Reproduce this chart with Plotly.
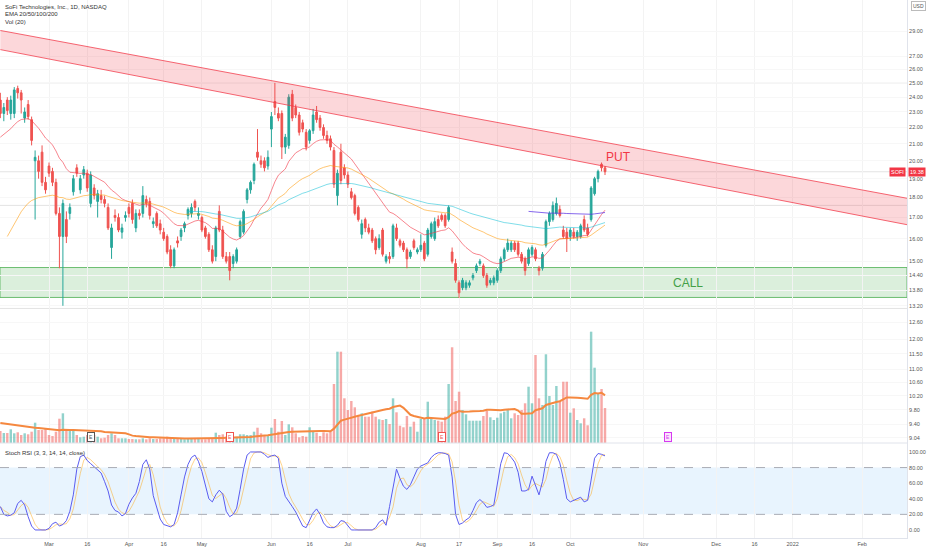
import math

import pandas as pd
import plotly.graph_objects as go

# SOFI daily bars, 8 Feb 2021 .. 15 Oct 2021 (10 bars per row)
opens = [
    23.8, 22.9, 23.8, 22.9, 22.9, 24.6, 24.3, 22.6, 23.5, 22.5,
    20.0, 20.0, 20.5, 18.8, 19.7, 19.4, 18.8, 17.2, 16.1, 16.9,
    17.2, 18.3, 19.6, 18.4, 19.2, 19.3, 17.7, 18.5, 17.8, 18.1,
    17.9, 17.5, 15.6, 17.1, 17.0, 16.3, 17.0, 17.5, 17.7, 16.5,
    17.2, 17.2, 17.9, 17.8, 16.7, 17.2, 16.7, 16.3, 16.1, 15.5,
    14.8, 15.9, 16.1, 16.5, 17.1, 17.2, 17.8, 17.1, 17.0, 16.5,
    16.2, 15.5, 15.2, 17.3, 16.4, 15.2, 15.2, 14.9, 15.0, 16.1,
    16.3, 17.9, 18.4, 18.9, 20.5, 20.0, 20.0, 19.7, 21.9, 23.7,
    22.9, 22.9, 20.8, 20.9, 24.2, 23.3, 22.8, 22.3, 21.7, 21.2,
    21.8, 23.0, 22.6, 22.0, 21.5, 21.3, 20.6, 18.1, 20.5, 19.6,
    19.2, 18.3, 18.1, 17.5, 16.2, 16.9, 16.5, 16.4, 16.0, 15.6,
    16.4, 15.0, 15.2, 15.2, 16.5, 15.9, 15.8, 15.5, 15.2, 15.9,
    15.4, 15.5, 15.8, 15.3, 16.1, 16.0, 16.9, 17.1, 17.1, 16.9,
    15.4, 14.9, 14.1, 13.9, 13.9, 14.0, 14.3, 14.6, 14.9, 14.8,
    14.4, 14.1, 14.1, 14.2, 14.6, 15.1, 15.5, 15.5, 15.8, 15.8,
    15.3, 15.1, 14.9, 15.3, 15.5, 14.7, 14.7, 15.7, 16.8, 16.9,
    17.2, 17.4, 16.4, 16.3, 16.1, 16.3, 16.1, 16.1, 16.9, 16.5,
    16.9, 18.2, 19.0, 19.8, 19.6,
]
highs = [
    24.3, 23.6, 24.0, 24.1, 24.7, 24.8, 24.5, 23.3, 23.8, 22.7,
    20.6, 20.3, 20.9, 19.1, 19.9, 19.6, 19.0, 17.5, 17.9, 17.3,
    17.7, 19.2, 19.8, 19.2, 19.7, 19.5, 19.4, 18.7, 18.4, 18.4,
    18.1, 17.7, 16.7, 17.4, 17.2, 16.7, 17.3, 17.7, 17.9, 17.4,
    17.4, 18.6, 18.1, 18.0, 17.0, 17.3, 16.9, 16.5, 16.2, 15.7,
    15.6, 16.1, 16.5, 16.8, 17.5, 17.7, 17.9, 17.5, 17.1, 16.6,
    16.3, 15.7, 16.6, 17.6, 16.6, 15.4, 15.4, 15.3, 15.6, 16.9,
    17.4, 18.5, 18.9, 19.9, 21.9, 20.3, 20.2, 20.6, 23.0, 25.0,
    23.3, 23.1, 21.6, 24.2, 24.5, 23.5, 23.0, 22.5, 21.9, 21.9,
    23.2, 23.4, 22.8, 22.2, 21.8, 21.5, 20.8, 19.5, 21.0, 19.8,
    19.4, 18.5, 18.2, 17.6, 16.9, 17.0, 16.7, 16.5, 16.1, 16.2,
    16.5, 15.3, 15.4, 16.7, 16.7, 16.0, 15.9, 15.6, 15.5, 16.0,
    15.6, 16.2, 15.9, 16.5, 16.8, 17.0, 17.1, 17.2, 17.2, 17.6,
    15.6, 15.1, 14.2, 14.3, 14.2, 14.2, 14.5, 14.9, 15.1, 14.9,
    14.5, 14.3, 14.4, 14.7, 15.2, 15.6, 16.0, 15.9, 15.9, 15.9,
    15.4, 15.2, 15.6, 15.7, 15.6, 14.8, 15.4, 16.9, 17.3, 17.8,
    18.0, 17.6, 16.6, 16.5, 16.5, 16.5, 16.4, 16.7, 17.1, 16.7,
    18.6, 19.1, 19.5, 19.9, 19.7,
]
lows = [
    22.6, 22.4, 22.8, 22.5, 22.6, 23.9, 22.9, 22.3, 22.5, 20.9,
    16.9, 19.0, 18.6, 18.2, 19.1, 18.6, 17.1, 14.7, 13.2, 15.8,
    16.9, 18.1, 19.1, 18.2, 19.0, 18.3, 17.5, 17.9, 17.0, 17.7,
    17.5, 16.4, 15.1, 16.8, 16.3, 16.0, 16.8, 17.0, 16.7, 16.3,
    16.9, 17.0, 17.5, 16.9, 16.5, 16.5, 16.2, 15.9, 15.3, 14.7,
    14.7, 15.6, 15.9, 16.3, 16.9, 17.0, 17.3, 16.9, 16.3, 16.0,
    15.4, 14.9, 15.0, 16.3, 15.1, 14.9, 14.2, 14.7, 14.9, 16.0,
    16.2, 17.7, 18.2, 18.7, 20.0, 19.6, 19.4, 19.5, 20.8, 22.8,
    22.4, 20.1, 20.4, 20.7, 22.4, 22.6, 21.5, 21.7, 20.6, 21.0,
    21.6, 22.3, 21.8, 21.3, 21.0, 20.6, 18.5, 17.6, 18.7, 19.0,
    18.5, 17.9, 17.1, 16.8, 16.0, 16.3, 16.2, 15.8, 15.3, 15.5,
    15.2, 14.9, 14.9, 15.1, 15.9, 15.6, 15.4, 14.7, 15.1, 15.5,
    15.3, 15.4, 15.0, 15.2, 16.0, 15.9, 16.5, 16.8, 16.5, 16.8,
    14.9, 14.1, 13.5, 13.8, 13.8, 13.9, 14.2, 14.5, 14.8, 14.3,
    13.9, 14.0, 14.0, 14.1, 14.5, 15.0, 15.4, 15.4, 15.4, 15.2,
    14.9, 14.4, 14.8, 15.2, 15.0, 14.4, 14.6, 15.6, 16.6, 16.8,
    17.1, 17.0, 16.0, 15.4, 15.9, 16.0, 15.9, 16.0, 16.3, 16.1,
    16.8, 18.1, 18.8, 19.4, 19.2,
]
closes = [
    22.9, 23.3, 23.1, 23.8, 24.5, 24.3, 23.8, 23.0, 22.7, 21.2,
    20.2, 19.4, 18.8, 18.4, 19.3, 18.8, 17.2, 16.1, 17.7, 16.1,
    17.5, 19.0, 19.3, 19.0, 19.5, 18.5, 19.2, 18.1, 18.2, 17.9,
    17.7, 16.5, 16.5, 17.0, 16.4, 16.5, 17.1, 17.2, 16.9, 17.2,
    17.1, 18.1, 17.7, 17.1, 16.8, 16.6, 16.4, 16.0, 15.4, 14.8,
    15.5, 15.8, 16.4, 16.7, 17.4, 17.5, 17.5, 17.2, 16.4, 16.1,
    15.5, 15.0, 16.5, 16.4, 15.2, 15.0, 14.6, 15.2, 15.5, 16.8,
    17.3, 18.4, 18.8, 19.8, 20.2, 19.8, 19.6, 20.2, 22.7, 23.3,
    22.6, 20.8, 21.4, 24.0, 22.6, 22.8, 21.7, 21.9, 20.8, 21.8,
    22.8, 22.5, 22.0, 21.5, 21.2, 20.8, 18.7, 19.3, 18.9, 19.2,
    18.7, 18.0, 17.2, 16.9, 16.7, 16.5, 16.3, 15.9, 15.5, 16.0,
    15.3, 15.2, 15.1, 16.6, 16.0, 15.7, 15.5, 15.1, 15.4, 15.6,
    15.5, 15.7, 15.1, 16.4, 16.7, 16.8, 16.6, 16.9, 16.6, 17.5,
    15.0, 14.2, 13.7, 14.2, 14.1, 14.1, 14.4, 14.8, 15.0, 14.4,
    14.0, 14.2, 14.3, 14.6, 15.1, 15.5, 15.8, 15.8, 15.5, 15.3,
    15.0, 14.6, 15.5, 15.6, 15.1, 14.6, 15.3, 16.8, 17.2, 17.6,
    17.7, 17.1, 16.1, 16.0, 16.4, 16.1, 16.3, 16.6, 16.4, 16.2,
    18.5, 19.0, 19.4, 19.6, 19.38,
]
volumes = [  # millions of shares
    12.0, 10.0, 10.0, 13.7, 9.7, 10.7, 8.0, 9.7, 8.7, 11.3,
    20.3, 13.0, 13.0, 14.7, 8.0, 7.0, 11.3, 24.3, 29.7, 13.0,
    13.0, 13.0, 8.0, 5.7, 6.3, 8.0, 8.0, 8.0, 6.3, 4.7,
    5.3, 8.0, 9.7, 8.0, 4.7, 4.7, 4.7, 4.0, 4.0, 3.7,
    3.7, 4.7, 3.7, 4.7, 4.0, 4.0, 4.7, 4.7, 6.3, 5.7,
    4.7, 4.7, 4.0, 3.7, 4.0, 4.7, 4.0, 4.0, 3.7, 3.7,
    4.0, 4.7, 10.3, 8.0, 8.7, 6.3, 5.7, 5.7, 6.3, 8.7,
    8.7, 8.0, 8.0, 11.3, 15.3, 9.7, 8.0, 8.0, 15.3, 24.0,
    11.3, 22.0, 8.0, 18.7, 15.7, 9.7, 5.7, 7.0, 6.3, 15.7,
    11.3, 10.3, 7.0, 10.7, 9.7, 11.3, 59.0, 91.3, 91.3, 44.7,
    33.0, 42.0, 35.7, 28.0, 29.7, 26.3, 26.3, 31.3, 26.3, 23.7,
    23.0, 24.0, 19.0, 44.7, 30.7, 17.3, 15.7, 27.0, 16.3, 21.3,
    11.3, 24.0, 24.0, 41.3, 24.0, 23.0, 22.3, 21.3, 26.3, 59.0,
    95.7, 42.0, 51.3, 33.0, 28.7, 22.3, 22.3, 22.3, 22.3, 27.0,
    32.3, 25.7, 23.0, 25.3, 29.7, 31.3, 33.0, 24.7, 29.7, 28.0,
    33.0, 39.7, 56.3, 39.7, 88.0, 44.7, 38.0, 88.7, 47.0, 38.0,
    57.0, 41.3, 61.3, 61.3, 30.3, 34.7, 23.0, 19.7, 24.7, 17.7,
    111.3, 75.3, 50.0, 54.0, 35.0,
]
vol_ma_seed = 20.3  # 20-day average volume just before the first bar shown

stoch_k = [
    30, 20, 18, 19, 22, 34, 38, 32, 17, 5,
    0, 0, 0, 0, 2, 8, 10, 5, 7, 12,
    24, 45, 78, 94, 96, 89, 85, 81, 78, 73,
    62, 50, 32, 25, 23, 18, 21, 33, 41, 47,
    62, 84, 90, 78, 44, 30, 14, 7, 5, 4,
    7, 22, 45, 68, 84, 93, 96, 88, 75, 57,
    40, 36, 45, 51, 46, 24, 17, 20, 28, 52,
    78, 96, 100, 100, 100, 100, 97, 93, 95, 96,
    92, 60, 43, 37, 30, 23, 13, 5, 3, 12,
    22, 27, 20, 9, 4, 3, 3, 6, 12, 11,
    5, 0, 0, 0, 0, 0, 0, 0, 3, 10,
    13, 6, 30, 52, 78, 66, 56, 52, 58, 68,
    78, 82, 84, 86, 93, 97, 99, 99, 98, 96,
    68, 20, 7, 9, 13, 16, 25, 35, 39, 35,
    29, 30, 32, 58, 85, 99, 98, 93, 87, 74,
    50, 50, 52, 69, 58, 45, 62, 88, 99, 99,
    97, 86, 65, 40, 36, 38, 39, 42, 36, 38,
    64, 92, 98, 97, 95,
]

# EMA lines begin on the chart at these bars with these values
ema_lengths = [20, 50, 100, 200]
ema_start_dates = ["2021-02-08", "2021-02-10", "2021-04-27", "2021-09-15"]
ema_seed_values = [21.4, 16.1, 17.3, 17.3]
ema_colors = ["rgba(242,54,69,0.6)", "rgba(255,152,0,0.55)", "rgba(0,188,212,0.5)", "rgba(94,53,230,0.75)"]

# drawings
channel_dates = ["2021-02-08", "2022-02-18"]
channel_top = [29.05, 17.96]
channel_bottom = [27.5, 16.65]
call_zone = [13.52, 14.73]
level_lines = [25.0, 19.38, 17.6, 13.1]
earnings_dates = ["2021-03-17", "2021-05-13", "2021-08-10", "2021-11-10"]

tick_dates = ["2021-03-01", "2021-03-16", "2021-04-01", "2021-04-16", "2021-05-03", "2021-06-01",
              "2021-06-16", "2021-07-01", "2021-08-02", "2021-08-17", "2021-09-01", "2021-09-16",
              "2021-10-01", "2021-11-01", "2021-12-01", "2021-12-16", "2022-01-03", "2022-02-01"]
tick_names = ["Mar", "16", "Apr", "16", "May", "Jun", "16", "Jul", "Aug", "17", "Sep", "16",
              "Oct", "Nov", "Dec", "16", "2022", "Feb"]
price_ticks = [29, 27, 26, 25, 24, 23, 22, 21, 20, 19, 18, 17, 16, 15,
               14.4, 13.8, 13.2, 12.6, 12.0, 11.5, 11.0, 10.6, 10.2, 9.8, 9.4, 9.04]
stoch_ticks = [0, 20, 40, 60, 80, 100]

TEAL = "#26a69a"
RED = "#ef5350"
FONT = "Liberation Sans, Arial, sans-serif"
SPLIT = 95 / 538  # stoch pane share of the plot height

# trading calendar -> bar index (TradingView spaces bars, not days)
holidays = pd.to_datetime(["2021-02-15", "2021-04-02", "2021-05-31", "2021-07-05", "2021-09-06",
                           "2021-11-25", "2021-12-24", "2022-01-17", "2022-02-21"])
days = pd.bdate_range("2021-02-08", "2022-03-31")
days = days[~days.isin(holidays)]
bar_of = {d: k for k, d in enumerate(days)}


def bar(date):
    return bar_of[pd.Timestamp(date)]


def ema(values, start, seed, length):
    alpha = 2 / (length + 1)
    out = [None] * len(values)
    level = seed
    out[start] = level
    for k in range(start + 1, len(values)):
        level = alpha * values[k] + (1 - alpha) * level
        out[k] = level
    return out


xs = list(range(len(closes)))
vol_colors = ["rgba(38,166,154,0.5)" if c >= o else "rgba(239,83,80,0.5)" for o, c in zip(opens, closes)]
vol_ma = pd.Series([vol_ma_seed] * 19 + volumes).rolling(20).mean().iloc[19:].tolist()
stoch_d = pd.Series(stoch_k).rolling(3, min_periods=1).mean()
chan_x = [bar(d) for d in channel_dates]

fig = go.Figure()

# red descending channel
fig.add_trace(go.Scatter(x=chan_x, y=channel_bottom, mode="lines",
                         line=dict(color="rgba(242,54,69,0.75)", width=1)))
fig.add_trace(go.Scatter(x=chan_x, y=channel_top, mode="lines", fill="tonexty",
                         fillcolor="rgba(242,54,69,0.2)",
                         line=dict(color="rgba(242,54,69,0.75)", width=1)))

fig.add_trace(go.Candlestick(
    x=xs, open=opens, high=highs, low=lows, close=closes, whiskerwidth=0,
    increasing=dict(line=dict(color=TEAL, width=1), fillcolor=TEAL),
    decreasing=dict(line=dict(color=RED, width=1), fillcolor=RED),
))

for length, start, seed, color in zip(ema_lengths, ema_start_dates, ema_seed_values, ema_colors):
    fig.add_trace(go.Scatter(x=xs, y=ema(closes, bar(start), seed, length), mode="lines",
                             line=dict(color=color, width=1)))

# volume overlay with its 20-day average
fig.add_trace(go.Bar(x=xs, y=volumes, marker=dict(color=vol_colors, line=dict(width=0)),
                     width=0.7, yaxis="y3"))
fig.add_trace(go.Scatter(x=xs, y=vol_ma, mode="lines", line=dict(color="#f5883f", width=2), yaxis="y3"))

# stoch RSI pane
fig.add_trace(go.Scatter(x=xs, y=stoch_d, mode="lines", line=dict(color="rgba(255,160,0,0.45)", width=1),
                         yaxis="y2"))
fig.add_trace(go.Scatter(x=xs, y=stoch_k, mode="lines", line=dict(color="#5b5cf0", width=1), yaxis="y2"))

shapes = [
    dict(type="rect", xref="paper", x0=0, x1=1, yref="y", y0=call_zone[0], y1=call_zone[1],
         fillcolor="rgba(76,175,80,0.2)", line=dict(color="rgba(76,175,80,0.8)", width=1), layer="below"),
    dict(type="rect", xref="paper", x0=0, x1=1, yref="y2", y0=20, y1=80,
         fillcolor="rgba(33,150,243,0.1)", line=dict(width=0), layer="below"),
    dict(type="line", xref="paper", x0=0, x1=1, yref="paper", y0=SPLIT, y1=SPLIT,
         line=dict(color="#e0e3eb", width=1)),
]
for lvl in level_lines:
    shapes.append(dict(type="line", xref="paper", x0=0, x1=1, yref="y", y0=lvl, y1=lvl,
                       line=dict(color="#e3e3e3", width=1), layer="below"))
for lvl in (20, 80):
    shapes.append(dict(type="line", xref="paper", x0=0, x1=1, yref="y2", y0=lvl, y1=lvl,
                       line=dict(color="#a9acb5", width=1, dash="dash")))


def label(text, x, y, size=6, color="#333", **kw):
    return dict(text=text, x=x, y=y, xref=kw.pop("xref", "paper"), yref=kw.pop("yref", "paper"),
                showarrow=False, font=dict(family=FONT, size=size, color=color),
                xanchor=kw.pop("xanchor", "left"), yanchor=kw.pop("yanchor", "middle"), **kw)


last = closes[-1]
annotations = [
    label("SoFi Technologies, Inc., 1D, NASDAQ", 0.003, 1 - 6.7 / 538),
    label("EMA 20/50/100/200", 0.003, 1 - 14.3 / 538),
    label("Vol (20)", 0.003, 1 - 22 / 538),
    label("Stoch RSI (3, 3, 14, 14, close)", 0.003, 1 - 453 / 538),
    label("PUT", 618 / 907, 1 - 157 / 538, size=12, color="#f23645", xanchor="center"),
    label("CALL", 688 / 907, 1 - 283 / 538, size=12, color="#43a047", xanchor="center"),
    label("USD", 1.004, 1 - 6 / 538, size=5, color="#555", bordercolor="#bbb", borderpad=1, borderwidth=1),
    label("SOFI", 0.999, math.log10(last), size=5.5, color="white", yref="y", xanchor="right",
          bgcolor="#f23645", borderpad=1),
    label(f"{last:.2f}", 1.001, math.log10(last), size=5.5, color="white", yref="y",
          bgcolor="#f23645", borderpad=1),
]
for d, col in zip(earnings_dates, ["#555555", "#ef5350", "#ef5350", "#d63af0"]):
    annotations.append(label("E", bar(d), 1 - 437 / 538, size=5, color=col, xref="x", xanchor="center",
                             bordercolor=col, borderwidth=1, borderpad=1,
                             bgcolor="#fbe3fd" if col == "#d63af0" else "white"))

tick_font = dict(family=FONT, size=5.5, color="#555")
fig.update_layout(
    width=932, height=550,
    margin=dict(l=0, r=25, t=0, b=12),
    paper_bgcolor="white", plot_bgcolor="white",
    showlegend=False, hovermode=False, boxgap=0.3,
    shapes=shapes, annotations=annotations,
    xaxis=dict(domain=[0, 1], anchor="y2", range=[-0.1, 260.9], rangeslider=dict(visible=False),
               tickvals=[bar(d) for d in tick_dates], ticktext=tick_names, tickfont=tick_font,
               showgrid=True, gridcolor="#f3f3f3", zeroline=False, showline=True, linecolor="#e0e3eb",
               ticks=""),
    yaxis=dict(domain=[SPLIT, 1], anchor="x", side="right", type="log",
               range=[math.log10(8.91), math.log10(31.7)],
               tickvals=price_ticks, ticktext=[f"{v:.2f}" for v in price_ticks], tickfont=tick_font,
               showgrid=True, gridcolor="#f7f7f7", zeroline=False, showline=True, linecolor="#e0e3eb",
               ticks=""),
    yaxis2=dict(domain=[0, SPLIT], anchor="x", side="right", range=[-10.3, 111.5],
                tickvals=stoch_ticks, ticktext=[f"{v:.2f}" for v in stoch_ticks], tickfont=tick_font,
                showgrid=False, zeroline=False, showline=True, linecolor="#e0e3eb", ticks=""),
    yaxis3=dict(overlaying="y", anchor="x", side="left", visible=False,
                range=[0, max(volumes) * 3.98]),
)

# the page's default body margin would push the 932x550 figure out of the window
fig.write_html("out.html", config={"displayModeBar": False},
               post_script="document.body.style.margin='0';document.body.style.overflow='hidden';")
